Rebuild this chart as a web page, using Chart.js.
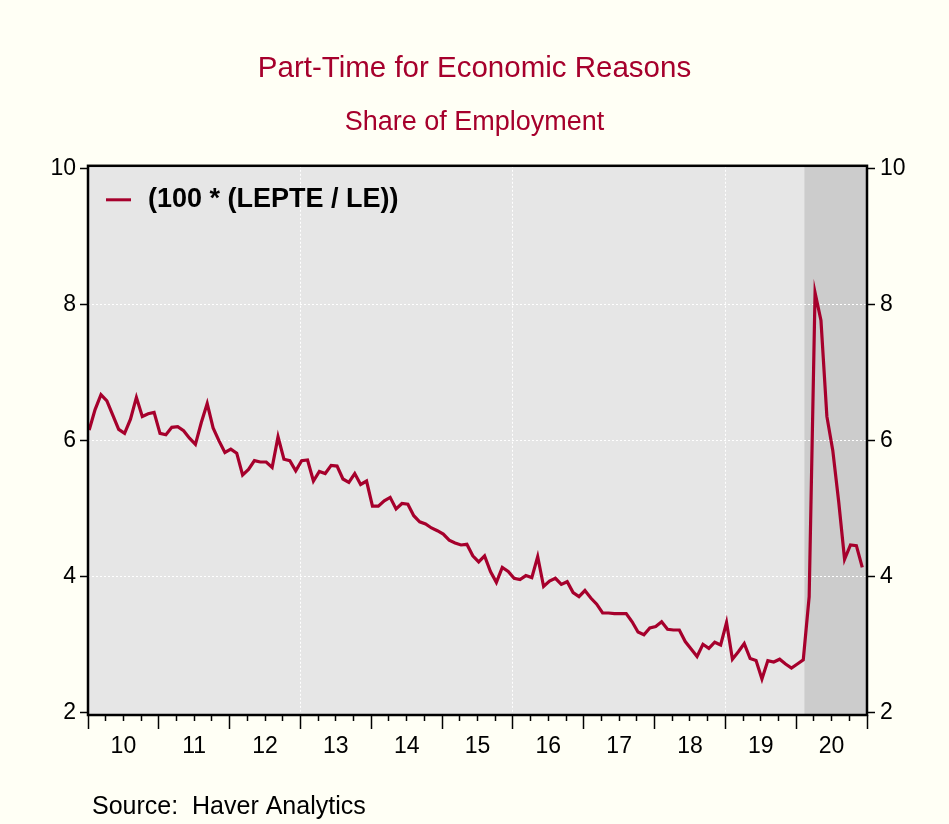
<!DOCTYPE html>
<html>
<head>
<meta charset="utf-8">
<script src="https://cdn.jsdelivr.net/npm/chart.js@4.4.1/dist/chart.umd.min.js"></script>
<style>
  html, body { margin: 0; padding: 0; background: #fffff5; }
  #wrap { width: 949px; height: 824px; }
</style>
</head>
<body>
<div id="wrap"><canvas id="chart" width="949" height="824"></canvas></div>
<script>
// Monthly, Jan 2010 - Dec 2020 (percent of employment)
const share2010 = [6.15, 6.45, 6.67, 6.58, 6.37, 6.16, 6.10, 6.31, 6.63, 6.35, 6.39, 6.41];
const share2011 = [6.10, 6.08, 6.19, 6.20, 6.14, 6.03, 5.94, 6.26, 6.54, 6.18, 5.99, 5.82];
const share2012 = [5.87, 5.81, 5.49, 5.57, 5.70, 5.68, 5.68, 5.60, 6.05, 5.72, 5.70, 5.55];
const share2013 = [5.70, 5.71, 5.40, 5.54, 5.51, 5.63, 5.62, 5.43, 5.38, 5.51, 5.35, 5.40];
const share2014 = [5.03, 5.03, 5.11, 5.16, 4.99, 5.07, 5.06, 4.89, 4.80, 4.77, 4.71, 4.67];
const share2015 = [4.62, 4.53, 4.49, 4.46, 4.47, 4.30, 4.21, 4.30, 4.07, 3.91, 4.13, 4.07];
const share2016 = [3.97, 3.95, 4.01, 3.98, 4.29, 3.85, 3.93, 3.97, 3.88, 3.92, 3.76, 3.70];
const share2017 = [3.79, 3.68, 3.59, 3.46, 3.46, 3.45, 3.45, 3.45, 3.33, 3.18, 3.14, 3.24];
const share2018 = [3.26, 3.33, 3.22, 3.21, 3.21, 3.04, 2.93, 2.82, 3.00, 2.94, 3.03, 2.99];
const share2019 = [3.32, 2.78, 2.89, 3.01, 2.79, 2.76, 2.49, 2.76, 2.74, 2.78, 2.71, 2.65];
const share2020 = [2.71, 2.77, 3.70, 8.17, 7.76, 6.35, 5.85, 5.10, 4.25, 4.46, 4.45, 4.13];

const years = ['10', '11', '12', '13', '14', '15', '16', '17', '18', '19', '20'];
const yTicks = [2, 4, 6, 8, 10];
const gridYears = ['13', '16', '19'];
const recessionStart = 121.2; // Feb 2020, month index

const series = [].concat(share2010, share2011, share2012, share2013, share2014, share2015,
    share2016, share2017, share2018, share2019, share2020);
const months = series.map((_, i) => i);

const RED = '#a6002c';
const FONT = '"Liberation Sans", Arial, sans-serif';
const X_MIN = -0.2;
const X_MAX = months.length - 0.2;

// Background, recession band, frame, legend, source
const decor = {
    id: 'decor',
    beforeDraw(chart) {
        const { ctx, chartArea: a, scales } = chart;
        ctx.save();
        ctx.fillStyle = '#e6e6e6';
        ctx.fillRect(a.left, a.top, a.width, a.height);
        const xs = scales.x.getPixelForValue(recessionStart);
        ctx.fillStyle = '#cccccc';
        ctx.fillRect(xs, a.top, a.right - xs, a.height);
        ctx.restore();
    },
    afterDatasetsDraw(chart) {
        const { ctx, chartArea: a } = chart;
        ctx.save();
        ctx.strokeStyle = '#000';
        ctx.lineWidth = 2.5;
        ctx.strokeRect(a.left, a.top, a.width, a.height);

        // legend inside plot
        const ly = a.top + 34;
        ctx.strokeStyle = RED;
        ctx.lineWidth = 3;
        ctx.beginPath();
        ctx.moveTo(a.left + 18, ly);
        ctx.lineTo(a.left + 43, ly);
        ctx.stroke();
        ctx.fillStyle = '#000';
        ctx.font = 'bold 27px ' + FONT;
        ctx.textBaseline = 'middle';
        ctx.fillText(chart.data.datasets[0].label, a.left + 60, ly);

        ctx.font = '25px ' + FONT;
        ctx.fillText('Source:  Haver Analytics', 92, 807);
        ctx.restore();
    }
};

const yAxis = (pos, width) => ({
    position: pos,
    min: 1.96,
    max: 10.035,
    afterBuildTicks: s => { s.ticks = yTicks.map(v => ({ value: v })); },
    afterFit: s => { s.width = width; },
    border: { display: false, dash: [2, 2] },
    grid: {
        drawOnChartArea: pos === 'left',
        color: c => (c.tick && c.tick.value > 2 && c.tick.value < 10) ? '#ffffff' : 'rgba(0,0,0,0)',
        tickColor: '#000',
        tickLength: 8,
        tickWidth: 1.5
    },
    ticks: {
        color: '#000',
        padding: pos === 'left' ? 4 : 5,
        font: { family: FONT, size: 23 },
        callback: v => String(v)
    }
});

new Chart(document.getElementById('chart'), {
    type: 'line',
    data: {
        labels: months,
        datasets: [{
            label: '(100 * (LEPTE / LE))',
            data: series,
            borderColor: RED,
            borderWidth: 3.2,
            pointRadius: 0,
            tension: 0,
            fill: false
        }]
    },
    options: {
        responsive: false,
        animation: false,
        layout: { padding: 0 },
        plugins: {
            legend: { display: false },
            tooltip: { enabled: false },
            title: {
                display: true,
                text: 'Part-Time for Economic Reasons',
                color: RED,
                font: { family: FONT, size: 29.5, weight: 'normal', lineHeight: 1.2 },
                padding: { top: 51, bottom: 20 }
            },
            subtitle: {
                display: true,
                text: 'Share of Employment',
                color: RED,
                font: { family: FONT, size: 27, weight: 'normal', lineHeight: 1.2 },
                padding: { top: 0, bottom: 27 }
            }
        },
        scales: {
            x: {
                type: 'linear',
                min: X_MIN,
                max: X_MAX,
                afterBuildTicks: s => {
                    const t = [];
                    for (let k = 0; k <= years.length * 4; k++) t.push({ value: X_MIN + k * 3 });
                    s.ticks = t;
                },
                afterFit: s => { s.height = 109; },
                border: { display: false, dash: [2, 2] },
                grid: {
                    drawOnChartArea: true,
                    color: c => {
                        const k = c.index;
                        return (k % 4 === 0 && gridYears.includes(years[k / 4])) ? '#ffffff' : 'rgba(0,0,0,0)';
                    },
                    tickColor: '#000',
                    tickLength: 14,
                    tickWidth: 1.5,
                    tickBorderDash: c => (c.index % 4 === 0 ? [] : [6, 40])
                },
                ticks: {
                    autoSkip: false,
                    maxRotation: 0,
                    color: '#000',
                    padding: 4,
                    font: { family: FONT, size: 23 },
                    callback: (v, i) => (i % 4 === 2 ? years[(i - 2) / 4] : '')
                }
            },
            y: yAxis('left', 88),
            y2: yAxis('right', 82)
        }
    },
    plugins: [decor]
});
</script>
</body>
</html>
